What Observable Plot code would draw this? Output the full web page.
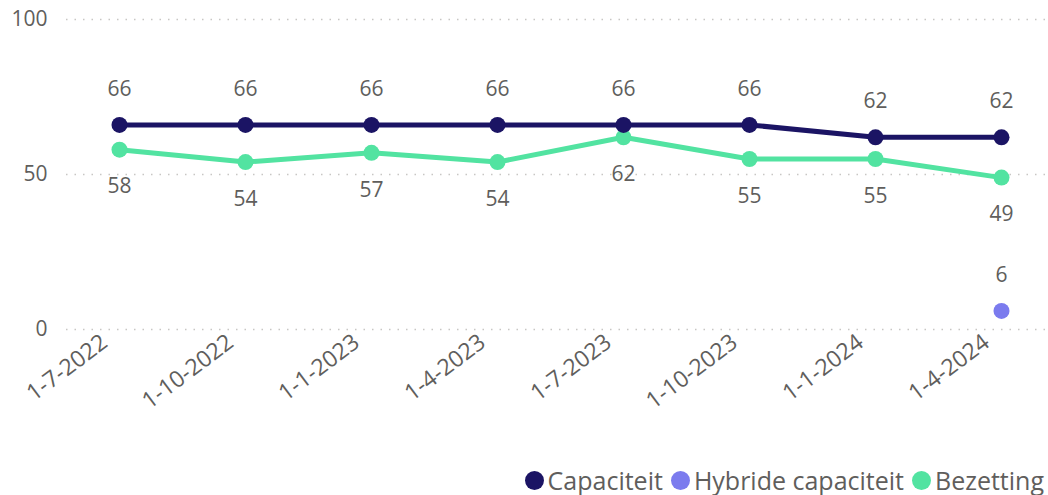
<!DOCTYPE html>
<html><head><meta charset="utf-8">
<script src="https://cdn.jsdelivr.net/npm/d3@7"></script>
<script src="https://cdn.jsdelivr.net/npm/@observablehq/plot@0.6"></script>
<style>
body{margin:0;background:#fff;font-family:"Segoe UI","Open Sans",sans-serif;overflow:hidden;}
#legend{position:absolute;left:0;top:463px;width:1044px;display:flex;justify-content:flex-end;align-items:center;font-size:25px;color:#605E5C;line-height:34px;}
.item{display:flex;align-items:center;margin-left:8px;}
.sw{width:19px;height:19px;border-radius:50%;margin-right:4px;}
</style></head><body><div id="chart"></div><div id="legend"></div>
<script>
const dates = ["1-7-2022","1-10-2022","1-1-2023","1-4-2023","1-7-2023","1-10-2023","1-1-2024","1-4-2024"];
const capaciteit = [66,66,66,66,66,66,62,62];
const bezetting = [58,54,57,54,62,55,55,49];
const hybride = [null,null,null,null,null,null,null,6];
const series = ["Capaciteit","Hybride capaciteit","Bezetting"];
const colors = ["#1B1464","#7B7BEE","#52E3A1"];
const yTicks = [0,50,100];

const cap = dates.map((d,i)=>({date:d,value:capaciteit[i]}));
const bez = dates.map((d,i)=>({date:d,value:bezetting[i]}));
const hyb = dates.map((d,i)=>({date:d,value:hybride[i]})).filter(d=>d.value!=null);
const txt = "#605E5C";

const chart = Plot.plot({
  width:1048, height:455,
  marginLeft:66, marginRight:0, marginTop:19, marginBottom:126,
  style:{fontFamily:'"Segoe UI","Open Sans",sans-serif', fontSize:"20px", color:txt, background:"#fff"},
  x:{type:"point", domain:dates, range:[118,1001], padding:0},
  y:{domain:[0,100]},
  marks:[
    Plot.gridY(yTicks,{stroke:"#c8c6c4", strokeOpacity:1, strokeDasharray:"1.5,7", strokeWidth:1.5}),
    Plot.axisY(yTicks,{tickSize:0, tickPadding:19, label:null, fontSize:21, fill:txt}),
    Plot.axisX({tickSize:0, tickPadding:10, tickRotate:-37, label:null, fontSize:23, fill:txt, dx:-15}),
    Plot.line(bez,{x:"date",y:"value",stroke:colors[2],strokeWidth:5}),
    Plot.line(cap,{x:"date",y:"value",stroke:colors[0],strokeWidth:5}),
    Plot.dot(bez,{x:"date",y:"value",fill:colors[2],r:8}),
    Plot.dot(cap,{x:"date",y:"value",fill:colors[0],r:8}),
    Plot.dot(hyb,{x:"date",y:"value",fill:colors[1],r:8}),
    Plot.text(cap,{x:"date",y:"value",text:d=>String(d.value),dy:-36,fill:txt,fontSize:21}),
    Plot.text(bez,{x:"date",y:"value",text:d=>String(d.value),dy:37,fill:txt,fontSize:21}),
    Plot.text(hyb,{x:"date",y:"value",text:d=>String(d.value),dy:-36,fill:txt,fontSize:21})
  ]
});
document.getElementById("chart").appendChild(chart);
const lg = document.getElementById("legend");
series.forEach((s,i)=>{
  const it=document.createElement("div");it.className="item";
  const sw=document.createElement("div");sw.className="sw";sw.style.background=colors[i];
  const t=document.createElement("span");t.textContent=s;
  it.appendChild(sw);it.appendChild(t);lg.appendChild(it);
});
</script></body></html>
